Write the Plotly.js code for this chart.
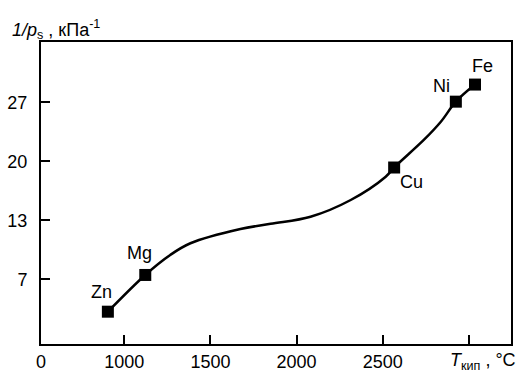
<!DOCTYPE html>
<html>
<head>
<meta charset="utf-8">
<script src="https://cdn.plot.ly/plotly-3.0.1.min.js"></script>
<style>html,body{margin:0;padding:0;background:#fff;}#chart{width:521px;height:372px;}</style>
</head>
<body>
<div id="chart"></div>
<script>
// Metals: boiling temperature (°C) and 1/p_s (kPa^-1)
const metals = ["Zn", "Mg", "Cu", "Ni", "Fe"];
const metalT = [905, 1122, 2566, 2924, 3035];
const metalP = [3.34, 7.49, 19.63, 27.07, 29.0];

// Smooth curve through the metals
const curveT = [905, 1122, 1267, 1384, 1674, 1849, 2081, 2314, 2517, 2566, 2738, 2837, 2924, 3035];
const curveP = [3.34, 7.49, 9.75, 11.07, 12.68, 13.27, 14.07, 15.96, 18.59, 19.63, 22.74, 24.8, 27.07, 29.0];

// Axis ticks (the original axis is broken at the origin and its y labels are evenly spaced)
const xTickVals = [517, 1000, 1500, 2000, 2500, 3000];
const xTickText = ["0", "1000", "1500", "2000", "2500", ""];
const yTickVals = [7, 13.667, 20.333, 27];
const yTickText = ["7", "13", "20", "27"];

// label offsets in pixels (style)
const labelShift = {Zn: [-6, 20], Mg: [-6, 22], Cu: [17, -14], Ni: [-14, 16], Fe: [8, 18.5]};

const font = "Liberation Sans, Arial, Helvetica, sans-serif";

const traces = [
  {x: curveT, y: curveP, mode: "lines", type: "scatter",
   line: {color: "#000", width: 2.5, shape: "spline", smoothing: 1}, hoverinfo: "skip"},
  {x: metalT, y: metalP, mode: "markers", type: "scatter",
   marker: {symbol: "square", size: 12, color: "#000"}, hoverinfo: "skip"}
];

const annotations = metals.map((m, i) => ({
  x: metalT[i], y: metalP[i], xref: "x", yref: "y", text: m, showarrow: false,
  xshift: labelShift[m][0], yshift: labelShift[m][1],
  font: {family: font, size: 18, color: "#000"}
}));
annotations.push({
  xref: "paper", yref: "paper", x: -0.067, y: 1.0, yshift: 13, xanchor: "left", yanchor: "middle",
  text: "<i>1/p</i><sub>s</sub> , кПа<sup>-1</sup>", showarrow: false,
  font: {family: font, size: 18, color: "#000"}
});
annotations.push({
  xref: "paper", yref: "paper", x: 1.0, y: 0, xshift: 7, yshift: -17, xanchor: "right", yanchor: "middle",
  text: "<i>T</i><sub>кип</sub> , °C", showarrow: false,
  font: {family: font, size: 18, color: "#000"}
});

const layout = {
  width: 521, height: 372,
  margin: {l: 41, r: 10, t: 42, b: 28, pad: 0},
  paper_bgcolor: "#fff", plot_bgcolor: "#fff",
  showlegend: false,
  font: {family: font, size: 18, color: "#000"},
  xaxis: {
    range: [517, 3244], tickmode: "array", tickvals: xTickVals, ticktext: xTickText,
    ticks: "inside", ticklen: 9, tickwidth: 2, tickcolor: "#000",
    showline: true, linewidth: 2, linecolor: "#000", mirror: true,
    showgrid: false, zeroline: false, tickfont: {family: font, size: 18, color: "#000"}
  },
  yaxis: {
    range: [-0.31, 33.81], tickmode: "array", tickvals: yTickVals, ticktext: yTickText,
    ticks: "inside", ticklen: 9, tickwidth: 2, tickcolor: "#000",
    showline: true, linewidth: 2, linecolor: "#000", mirror: true,
    showgrid: false, zeroline: false, tickfont: {family: font, size: 18, color: "#000"},
    ticklabelstandoff: 8
  },
  annotations: annotations
};

Plotly.newPlot("chart", traces, layout, {displayModeBar: false, staticPlot: true});
</script>
</body>
</html>
